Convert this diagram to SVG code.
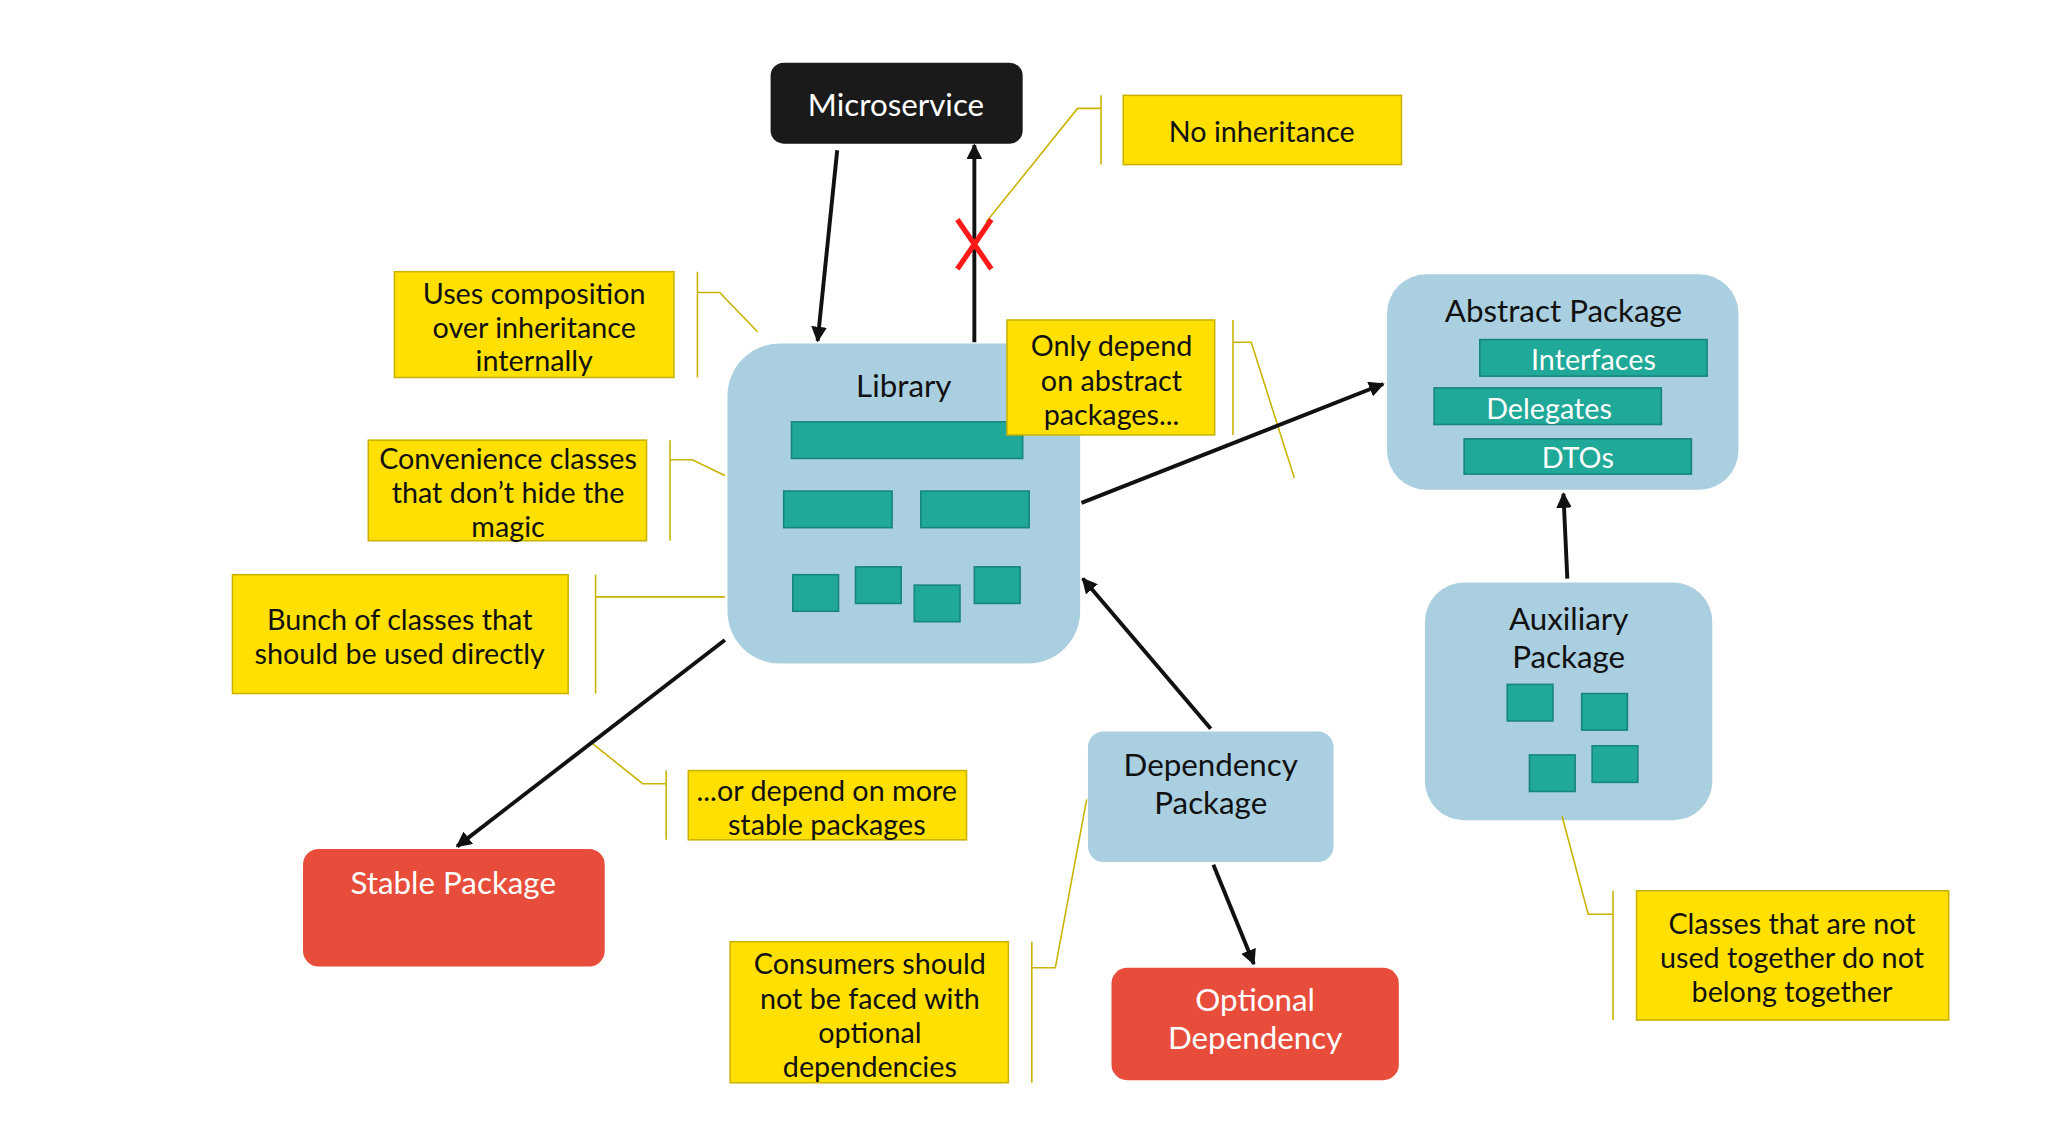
<svg xmlns="http://www.w3.org/2000/svg" width="2048" height="1141" viewBox="0 0 2048 1141">
<defs>
<style>
text{font-family:Lato,"Open Sans","Liberation Sans",sans-serif;font-size:22px;text-anchor:middle;dominant-baseline:central;fill:#111}
.pkg{fill:#a9cfe0}
.t{fill:#20a898;stroke:#16857a;stroke-width:1.2}
.note{fill:#ffe000;stroke:#c9b300;stroke-width:1.2}
.br{fill:none;stroke:#c9b300;stroke-width:1.2}
.red{fill:#e84c3a}
.w{fill:#fff}
.c{stroke:#111;stroke-width:3;fill:none;marker-end:url(#ah)}
</style>
<marker id="ah" viewBox="0 0 10 10" refX="9" refY="5" markerWidth="4" markerHeight="4" orient="auto" markerUnits="strokeWidth"><path d="M0,0L10,5L0,10z" fill="#111"/></marker>
</defs>
<rect width="2048" height="1141" fill="#fff"/>
<g transform="scale(1.3061)">
<g id="microservice"><rect x="590" y="48" width="193" height="62" rx="10" fill="#1a1a1a"/><text x="686" y="80" class="w" style="font-size:24px">Microservice</text></g>
<g id="library"><rect class="pkg" x="557" y="263" width="270" height="245" rx="40"/><text x="692" y="295" style="font-size:24px">Library</text>
<rect class="t" x="606" y="323" width="177" height="28"/><rect class="t" x="600" y="376" width="83" height="28"/><rect class="t" x="705" y="376" width="83" height="28"/>
<rect class="t" x="607" y="440" width="35" height="28"/><rect class="t" x="655" y="434" width="35" height="28"/><rect class="t" x="700" y="448" width="35" height="28"/><rect class="t" x="746" y="434" width="35" height="28"/></g>
<g id="abstract"><rect class="pkg" x="1062" y="210" width="269" height="165" rx="30"/><text x="1197" y="237" style="font-size:24px">Abstract Package</text>
<rect class="t" x="1133" y="260" width="174" height="28"/><text class="w" x="1220" y="275">Interfaces</text>
<rect class="t" x="1098" y="297" width="174" height="28"/><text class="w" x="1186" y="312">Delegates</text>
<rect class="t" x="1121" y="336" width="174" height="27"/><text class="w" x="1208" y="350">DTOs</text></g>
<g id="auxiliary"><rect class="pkg" x="1091" y="446" width="220" height="182" rx="30"/><text x="1201" y="473" style="font-size:24px">Auxiliary</text><text x="1201" y="502" style="font-size:24px">Package</text>
<rect class="t" x="1154" y="524" width="35" height="28"/><rect class="t" x="1211" y="531" width="35" height="28"/><rect class="t" x="1171" y="578" width="35" height="28"/><rect class="t" x="1219" y="571" width="35" height="28"/></g>
<g id="dependency"><rect class="pkg" x="833" y="560" width="188" height="100" rx="12"/><text x="927" y="585" style="font-size:24px">Dependency</text><text x="927" y="614" style="font-size:24px">Package</text></g>
<g id="optional"><rect class="red" x="851" y="741" width="220" height="86" rx="12"/><text class="w" x="961" y="765" style="font-size:24px">Optional</text><text class="w" x="961" y="794" style="font-size:24px">Dependency</text></g>
<g id="stable"><rect class="red" x="232" y="650" width="231" height="90" rx="12"/><text class="w" x="347" y="675" style="font-size:24px">Stable Package</text></g>
<g id="note-noinherit"><rect class="note" x="860" y="73" width="213" height="53"/><text x="966" y="100">No inheritance</text><path class="br" d="M843,73V126M843,83H825L755,170"/></g>
<g id="note-only"><rect class="note" x="771" y="245" width="159" height="88"/><text x="851" y="264">Only depend</text><text x="851" y="291">on abstract</text><text x="851" y="317">packages...</text><path class="br" d="M944,245V333M944,262H958L991,366"/></g>
<g id="note-classes"><rect class="note" x="1253" y="682" width="239" height="99"/><text x="1372" y="707">Classes that are not</text><text x="1372" y="733">used together do not</text><text x="1372" y="759">belong together</text><path class="br" d="M1235,682V781M1235,700H1216L1196,625"/></g>
<g id="note-consumers"><rect class="note" x="559" y="721" width="213" height="108"/><text x="666" y="737">Consumers should</text><text x="666" y="764">not be faced with</text><text x="666" y="790">optional</text><text x="666" y="816">dependencies</text><path class="br" d="M790,721V829M790,741H808L832,612"/></g>
<g id="note-stable"><rect class="note" x="527" y="590" width="213" height="53"/><text x="633" y="605">...or depend on more</text><text x="633" y="631">stable packages</text><path class="br" d="M510,590V643M510,600H492L452,568"/></g>
<g id="note-bunch"><rect class="note" x="178" y="440" width="257" height="91"/><text x="306" y="474">Bunch of classes that</text><text x="306" y="500">should be used directly</text><path class="br" d="M456,440V531M456,457H555"/></g>
<g id="note-convenience"><rect class="note" x="282" y="337" width="213" height="77"/><text x="389" y="351">Convenience classes</text><text x="389" y="377">that don’t hide the</text><text x="389" y="403">magic</text><path class="br" d="M513,337V414M513,352H530L555,364"/></g>
<g id="note-composition"><rect class="note" x="302" y="208" width="214" height="81"/><text x="409" y="224">Uses composition</text><text x="409" y="250">over inheritance</text><text x="409" y="276">internally</text><path class="br" d="M534,208V289M534,224H551L580,254"/></g>
<g id="connectors">
<path class="c" d="M641,115L626,261"/>
<path class="c" d="M746,262V111"/>
<path d="M733,168L759,206M759,168L733,206" stroke="#ff1a1a" stroke-width="4"/>
<path class="c" d="M828,385L1059,294"/>
<path class="c" d="M1200,443L1197,378"/>
<path class="c" d="M927,558L829,443"/>
<path class="c" d="M929,662L960,738"/>
<path class="c" d="M555,490L350,648"/>
</g>
</g>
</svg>
